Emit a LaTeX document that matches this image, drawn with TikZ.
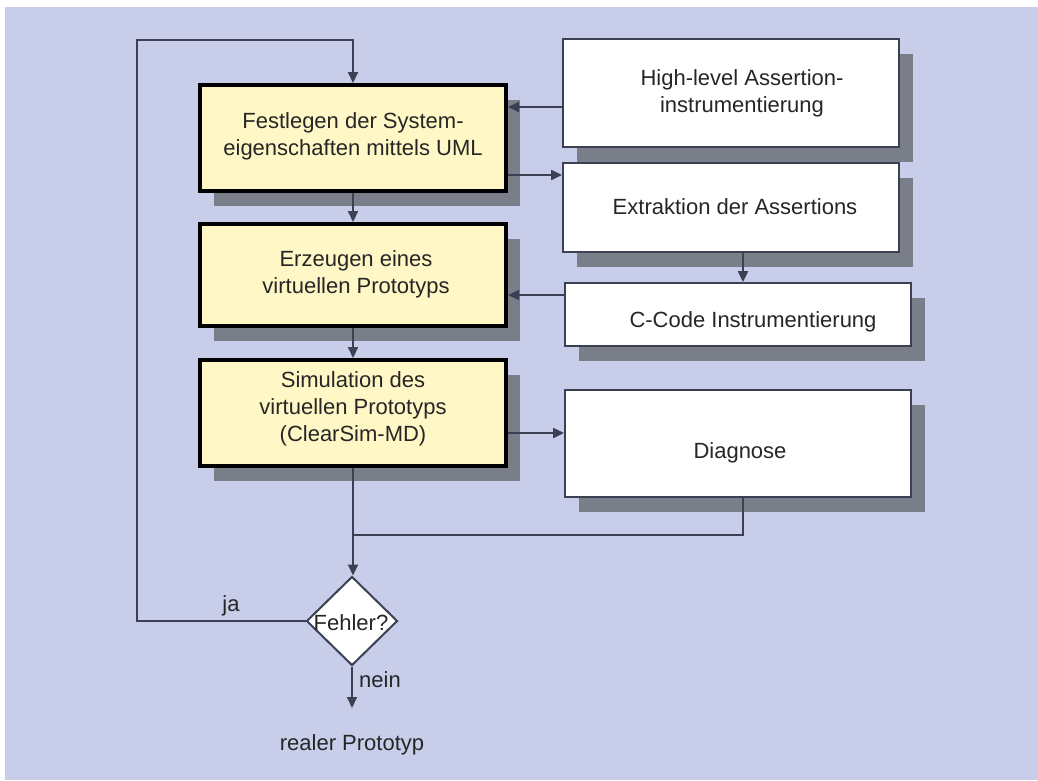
\documentclass[tikz,border=0pt]{standalone}
\usepackage{fontspec}
\setmainfont{Liberation Sans}
\usetikzlibrary{shapes.geometric,arrows.meta,shadows}
\definecolor{bg}{HTML}{C8CEEA}
\definecolor{shgray}{HTML}{7A7E88}
\definecolor{ybox}{HTML}{FFF7C6}
\definecolor{lnc}{HTML}{3B4052}
\definecolor{txc}{HTML}{262626}
\begin{document}
\begin{tikzpicture}[x=1pt,y=-1pt,
  every node/.style={font=\fontsize{22}{27}\selectfont, text=txc},
  shad/.style={drop shadow={shadow xshift=14pt,shadow yshift=-15pt,fill=shgray,opacity=1}},
  ybx/.style={draw=black, line width=4pt, fill=ybox, shad, inner sep=0pt, align=center},
  wbx/.style={draw=lnc, line width=1.8pt, fill=white, shad, inner sep=0pt, align=center},
  txtn/.style={align=center, inner sep=0pt},
  conn/.style={draw=lnc, line width=2pt},
  arr/.style={conn, -{Triangle[length=11pt,width=10pt]}}
]
\useasboundingbox (0,0) rectangle (1038,780);
\fill[white] (0,0) rectangle (1038,780);
\fill[bg] (5,7) rectangle (1038,780);

% left column
\node[ybx, minimum width=306pt, minimum height=106pt] (b1) at (353,138) {};
\node[txtn] (t1) at (353,136) {Festlegen der System-\\eigenschaften mittels UML};
\node[ybx, minimum width=306pt, minimum height=102pt] (b2) at (353,275) {};
\node[txtn] (t2) at (356,274) {Erzeugen eines\\virtuellen Prototyps};
\node[ybx, minimum width=306pt, minimum height=106pt] (b3) at (353,413) {};
\node[txtn] (t3) at (353,409) {Simulation des\\virtuellen Prototyps\\(ClearSim-MD)};

% right column
\node[wbx, minimum width=336pt, minimum height=108pt] (hl) at (731,93) {};
\node[txtn] (thl) at (742,93) {High-level Assertion-\\instrumentierung};
\node[wbx, minimum width=336pt, minimum height=89pt] (ex) at (731,207.5) {};
\node[txtn] (tex) at (735,207) {Extraktion der Assertions};
\node[wbx, minimum width=346pt, minimum height=63pt] (cc) at (738,314.5) {};
\node[txtn] (tcc) at (753,322) {C-Code Instrumentierung};
\node[wbx, minimum width=346pt, minimum height=107pt] (dg) at (738,443.5) {};
\node[txtn] (tdg) at (740,453) {Diagnose};

% decision
\node[diamond, draw=lnc, line width=2pt, fill=white, minimum width=91pt, minimum height=89pt, inner sep=0pt] (dia) at (352,621) {};
\node[txtn] (tdia) at (351,623) {Fehler?};

\coordinate (lc) at (137,40);
\coordinate (jn) at (353,535);
\coordinate (endp) at (352,708);

% connectors
\draw[arr] ([yshift=-14pt]hl.west) coordinate (p1) -- (p1 -| b1.east);
\draw[arr] ([yshift=-37pt]b1.east) coordinate (p2) -- (p2 -| ex.west);
\draw[arr] ([xshift=12pt]ex.south) coordinate (p3) -- (p3 |- cc.north);
\draw[arr] ([yshift=19.5pt]cc.west) coordinate (p4) -- (p4 -| b2.east);
\draw[arr] ([yshift=-20pt]b3.east) coordinate (p5) -- (p5 -| dg.west);
\draw[arr] (b1.south) -- (b2.north);
\draw[arr] (b2.south) -- (b3.north);
\draw[arr] (b3.south) -- (b3.south |- dia.north);
\draw[conn] ([xshift=5pt]dg.south) coordinate (p6) |- (jn);
\draw[arr] (dia.west) -| (lc) -| (b1.north);
\draw[arr] (dia.south) -- (endp);

% labels
\node[txtn] (lja) at (231,606) {ja};
\node[txtn] (lnein) at (380,680) {nein};
\node[txtn] (lreal) at (352,745) {realer Prototyp};
\end{tikzpicture}
\end{document}
